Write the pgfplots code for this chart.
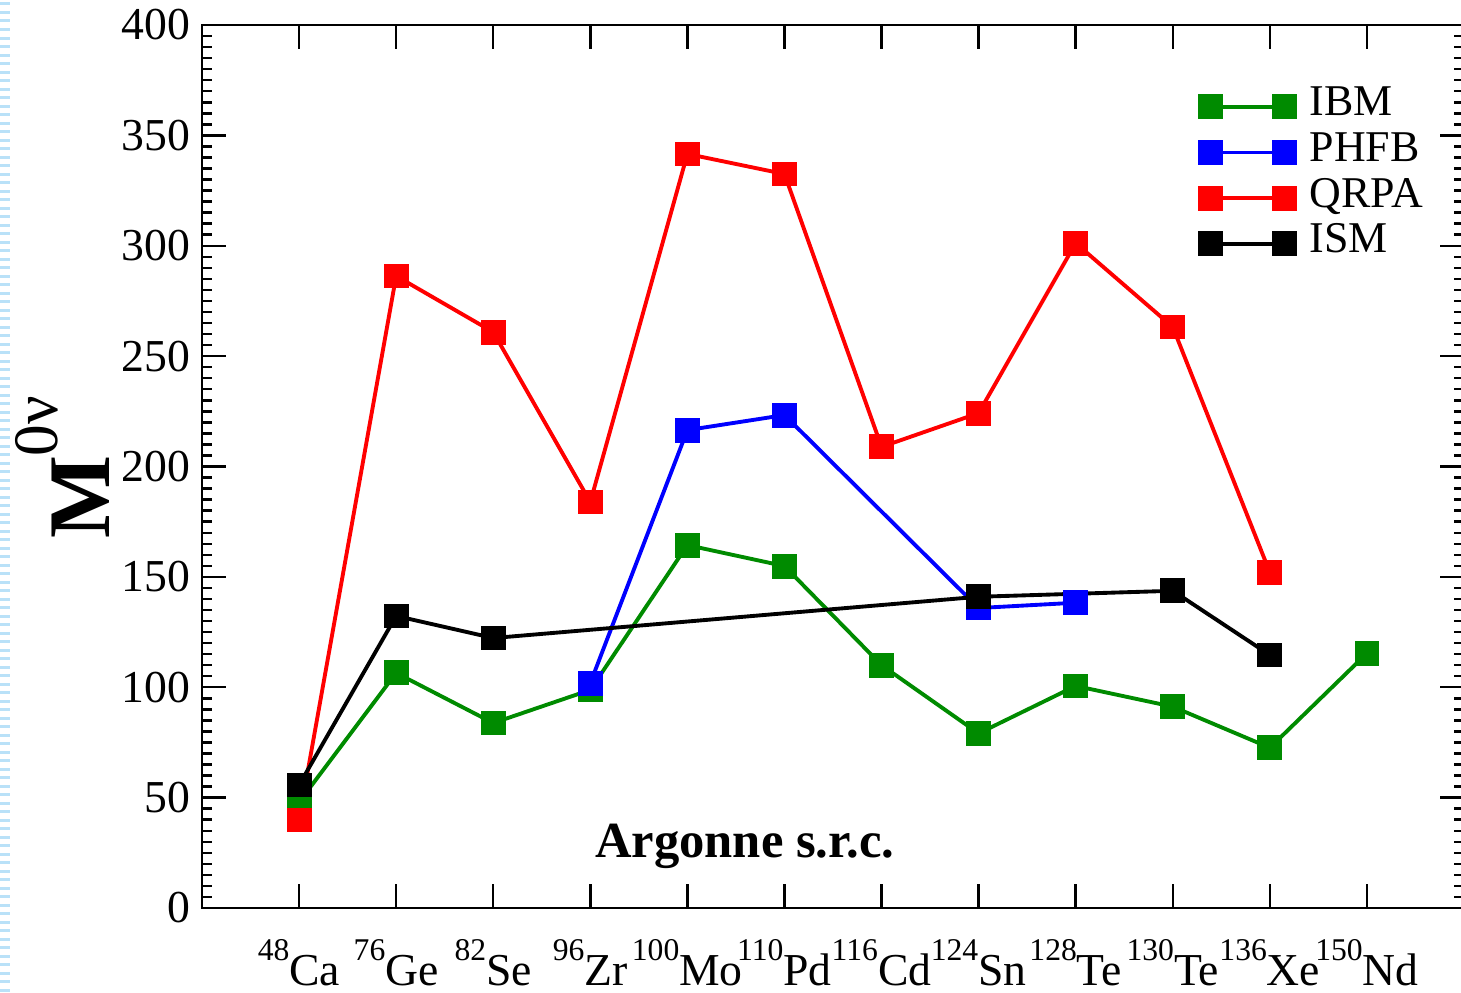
\documentclass[border=0pt]{standalone}
\usepackage{fontspec}
\setmainfont{Liberation Serif}
\usepackage{pgfplots}
\pgfplotsset{compat=1.18}
\definecolor{ibmgreen}{RGB}{0,139,0}
\definecolor{bgdash}{RGB}{185,225,248}
\newcommand{\iso}[2]{\raisebox{7pt}{\fontsize{9}{9}\selectfont #1}#2}

\begin{document}
\begin{tikzpicture}
\useasboundingbox (-20.2mm,-8.4mm) rectangle (125.9mm,90.8mm);
\foreach \k in {0,...,116} \draw[bgdash, line width=0.3mm] (-20.2mm,{90.4mm-\k*0.85mm}) -- ++(1.0mm,0);
\begin{axis}[
 at={(0,0)}, anchor=south west, scale only axis,
 width=126.2mm, height=88.3mm,
 xmin=-1, xmax=12, ymin=0, ymax=400,
 clip=false,
 xtick={0,...,11},
 xticklabels={\iso{48}{Ca},\iso{76}{Ge},\iso{82}{Se},\iso{96}{Zr},\iso{100}{Mo},\iso{110}{Pd},\iso{116}{Cd},\iso{124}{Sn},\iso{128}{Te},\iso{130}{Te},\iso{136}{Xe},\iso{150}{Nd}},
 ytick={0,50,...,400},
 minor y tick num=9,
 tick align=inside,
 major tick length=2.4mm, minor tick length=1.0mm,
 axis line style={line width=0.8pt},
 every tick/.style={black, line width=0.7pt},
 tick label style={font=\fontsize{13}{15}\selectfont},
 /pgf/number format/assume math mode=true,
 xticklabel style={anchor=base, yshift=-7.7mm, inner sep=0pt},
 yticklabel style={anchor=east, inner sep=0pt, xshift=-1.1mm},
 legend style={at={(0.79,0.934)}, anchor=north west, draw=none, fill=none, inner sep=0pt, row sep=0pt,
   font=\fontsize{12.5}{13}\selectfont, nodes={inner sep=0pt, text height=9pt, text depth=4pt},
   /tikz/every odd column/.append style={column sep=1.5mm}},
 legend image code/.code={\draw[#1] plot coordinates {(0mm,0mm) (7.4mm,0mm)};},
 legend cell align=left,
 every axis plot/.append style={line width=1.1pt, mark=square*, mark size=1.05mm, mark options={solid}},
]
\addplot[ibmgreen, mark options={fill=ibmgreen}] coordinates {
 (0,48) (1,106.5) (2,83.8) (3,98.8) (4,164.4) (5,154.9) (6,110) (7,79.1) (8,100.6) (9,91.2) (10,72.6) (11,115.4)};
\addlegendentry{IBM}
\addplot[blue, mark options={fill=blue}] coordinates {
 (3,101.9) (4,216.5) (5,223.3) (7,135.9) (8,138.3)};
\addlegendentry{PHFB}
\addplot[red, mark options={fill=red}] coordinates {
 (0,39.9) (1,286.3) (2,260.9) (3,183.9) (4,341.6) (5,332.5) (6,208.9) (7,224.2) (8,301.2) (9,263.2) (10,152)};
\addlegendentry{QRPA}
\addplot[black, mark options={fill=black}] coordinates {
 (0,55.7) (1,132.3) (2,122.3) (7,141) (9,143.7) (10,114.6)};
\addlegendentry{ISM}
\node[anchor=base, font=\fontsize{14.4}{17}\selectfont\bfseries] at (axis cs:4.59,23) {Argonne s.r.c.};
\node[rotate=90, anchor=base] at (axis description cs:-0.073,0.499) {{\fontsize{25}{30}\selectfont\bfseries M}\raisebox{14.8pt}{\fontsize{18}{20}\selectfont 0ν}};
\end{axis}
\end{tikzpicture}
\end{document}
